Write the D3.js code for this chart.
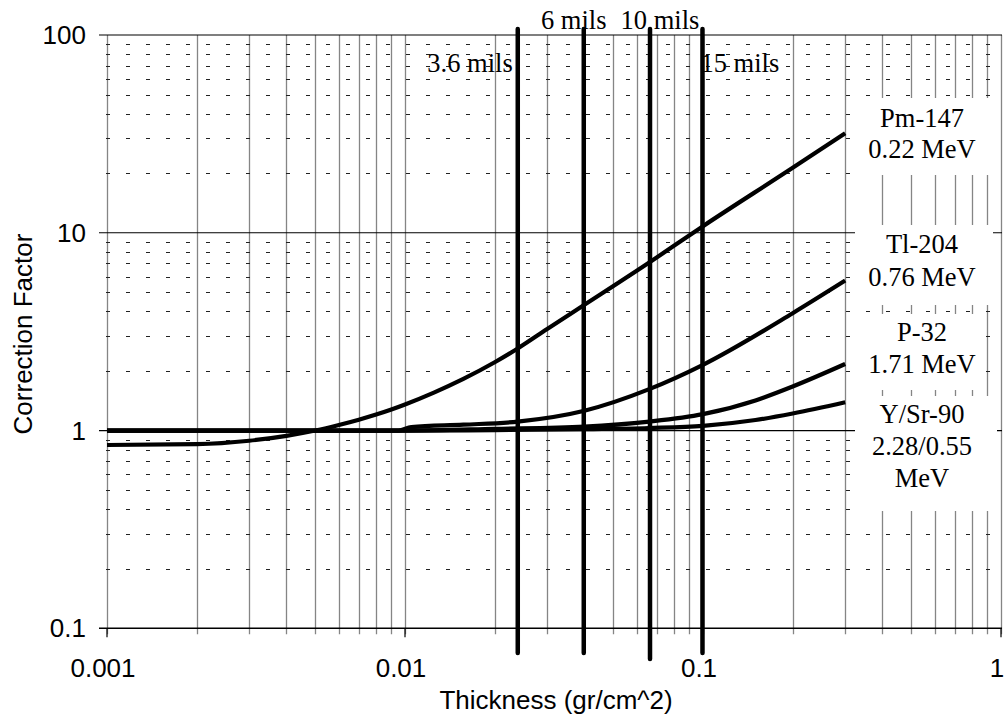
<!DOCTYPE html>
<html>
<head>
<meta charset="utf-8">
<script src="https://cdn.jsdelivr.net/npm/d3@7"></script>
<style>
  html, body { margin: 0; padding: 0; background: #fff; }
  svg { display: block; }
  .sans { font-family: "Liberation Sans", Arial, sans-serif; }
  .serif { font-family: "Liberation Serif", "Times New Roman", serif; }
</style>
</head>
<body>
<div id="chart"></div>
<script>
// Thickness values (gr/cm^2) and correction factors
const pmX  = [0.001, 0.002, 0.003, 0.004, 0.005, 0.006, 0.007, 0.008, 0.009, 0.01, 0.0125, 0.0157, 0.02, 0.0239, 0.03, 0.04, 0.066, 0.1, 0.2, 0.3];
const pmY  = [0.845, 0.853, 0.888, 0.94, 1.0, 1.067, 1.135, 1.205, 1.278, 1.355, 1.556, 1.825, 2.215, 2.6, 3.26, 4.32, 7.07, 10.8, 21.3, 31.9];

const tlX  = [0.001, 0.005, 0.0095, 0.0105, 0.0157, 0.0239, 0.04, 0.066, 0.1, 0.2, 0.3];
const tlY  = [1.0, 1.0, 1.0, 1.04, 1.07, 1.11, 1.26, 1.62, 2.15, 3.92, 5.73];

const p32X = [0.001, 0.005, 0.01, 0.02, 0.04, 0.066, 0.1, 0.15, 0.2, 0.3];
const p32Y = [1.0, 1.0, 1.0, 1.02, 1.047, 1.11, 1.21, 1.42, 1.67, 2.17];

const srX  = [0.001, 0.005, 0.01, 0.02, 0.04, 0.066, 0.1, 0.15, 0.2, 0.3];
const srY  = [1.0, 1.0, 1.0, 1.005, 1.015, 1.03, 1.056, 1.13, 1.22, 1.39];

// Absorber thicknesses marked with vertical lines
const milsX      = [0.0239, 0.0398, 0.0664, 0.0996];
const milsLabels = ["3.6 mils", "6 mils", "10 mils", "15 mils"];

const legendLines = [
  ["Pm-147", "0.22 MeV"],
  ["Tl-204", "0.76 MeV"],
  ["P-32", "1.71 MeV"],
  ["Y/Sr-90", "2.28/0.55", "MeV"]
];

const xTickLabels = ["0.001", "0.01", "0.1", "1"];
const yTickLabels = ["0.1", "1", "10", "100"];

const width = 1005, height = 721;
const svg = d3.select("#chart").append("svg")
  .attr("width", width)
  .attr("height", height);

const x = d3.scaleLog().domain([0.001, 1]).range([107, 1001]);
const y = d3.scaleLog().domain([0.1, 100]).range([628.3, 35]);

// Vertical grid (gray, all 1..9 multiples)
svg.append("g")
  .selectAll("line")
  .data(x.ticks())
  .join("line")
  .attr("x1", d => Math.round(x(d)) + 0.5)
  .attr("x2", d => Math.round(x(d)) + 0.5)
  .attr("y1", y(100))
  .attr("y2", y(0.1) + 6)
  .attr("stroke", "#858585")
  .attr("stroke-width", 1.3);

// Horizontal minor grid (dashed)
const yMinor = y.ticks().filter(d => !yTickLabels.includes(String(d)));
svg.append("g")
  .selectAll("line")
  .data(yMinor)
  .join("line")
  .attr("x1", 106)
  .attr("x2", 1001)
  .attr("y1", d => Math.round(y(d)) + 0.5)
  .attr("y2", d => Math.round(y(d)) + 0.5)
  .attr("stroke", "#222")
  .attr("stroke-width", 1)
  .attr("stroke-dasharray", "4,16");

// Horizontal major grid + left ticks
const yMajor = yTickLabels.map(Number);
svg.append("g")
  .selectAll("line")
  .data(yMajor)
  .join("line")
  .attr("x1", 99)
  .attr("x2", 1002)
  .attr("y1", d => y(d))
  .attr("y2", d => y(d))
  .attr("stroke", "#000")
  .attr("stroke-width", d => (d === 0.1 ? 1.6 : 1.2));

// Bottom major ticks
svg.append("g")
  .selectAll("line")
  .data(xTickLabels.map(Number))
  .join("line")
  .attr("x1", d => x(d))
  .attr("x2", d => x(d))
  .attr("y1", y(0.1))
  .attr("y2", y(0.1) + 9)
  .attr("stroke", "#000")
  .attr("stroke-width", 1.2);

// Curves
const series = [
  { xs: pmX, ys: pmY },
  { xs: tlX, ys: tlY },
  { xs: p32X, ys: p32Y },
  { xs: srX, ys: srY }
];

const line = d3.line()
  .x(d => x(d[0]))
  .y(d => y(d[1]))
  .curve(d3.curveMonotoneX);

svg.append("g")
  .selectAll("path")
  .data(series)
  .join("path")
  .attr("d", s => line(s.xs.map((v, i) => [v, s.ys[i]])))
  .attr("fill", "none")
  .attr("stroke", "#000")
  .attr("stroke-width", 4.2)
  .attr("stroke-linejoin", "round");

// Mils lines
svg.append("g")
  .selectAll("line")
  .data(milsX)
  .join("line")
  .attr("x1", d => x(d))
  .attr("x2", d => x(d))
  .attr("y1", 29)
  .attr("y2", (d, i) => (i === 2 ? 659 : 653))
  .attr("stroke", "#000")
  .attr("stroke-width", 4.5)
  .attr("stroke-linecap", "round");

// Mils labels
const milsPos = [
  { anchor: "end", dx: -5, y: 72 },
  { anchor: "middle", dx: -10, y: 28.5 },
  { anchor: "middle", dx: 10, y: 28.5 },
  { anchor: "start", dx: -2, y: 72 }
];
svg.append("g")
  .attr("class", "serif")
  .selectAll("text")
  .data(milsLabels)
  .join("text")
  .attr("x", (d, i) => x(milsX[i]) + milsPos[i].dx)
  .attr("y", (d, i) => milsPos[i].y)
  .attr("text-anchor", (d, i) => milsPos[i].anchor)
  .attr("font-size", 26.5)
  .attr("fill", "#000")
  .text(d => d);

// Legend boxes
const boxes = [
  { x0: 856, x1: 991, y0: 98, y1: 175, base: [126.7, 158] },
  { x0: 855, x1: 993, y0: 225, y1: 305, base: [253.3, 286] },
  { x0: 856, x1: 985, y0: 314, y1: 390, base: [341, 373] },
  { x0: 855, x1: 997, y0: 396, y1: 511, base: [422.7, 455, 486.7] }
];
const legend = svg.append("g").attr("class", "serif");
legendLines.forEach((lines, i) => {
  const b = boxes[i];
  legend.append("rect")
    .attr("x", b.x0)
    .attr("y", b.y0)
    .attr("width", b.x1 - b.x0)
    .attr("height", b.y1 - b.y0)
    .attr("fill", "#fff");
  lines.forEach((t, j) => {
    legend.append("text")
      .attr("x", 922)
      .attr("y", b.base[j])
      .attr("text-anchor", "middle")
      .attr("font-size", 26.5)
      .attr("fill", "#000")
      .text(t);
  });
});

// Tick labels
svg.append("g")
  .attr("class", "sans")
  .selectAll("text")
  .data(yTickLabels)
  .join("text")
  .attr("x", 86)
  .attr("y", d => y(+d) + 9)
  .attr("text-anchor", "end")
  .attr("font-size", 26)
  .text(d => d);

svg.append("g")
  .attr("class", "sans")
  .selectAll("text")
  .data(xTickLabels)
  .join("text")
  .attr("x", d => x(+d) - 4)
  .attr("y", 676.5)
  .attr("text-anchor", "middle")
  .attr("font-size", 26)
  .text(d => d);

// Axis titles
svg.append("text")
  .attr("class", "sans")
  .attr("x", 556)
  .attr("y", 708.5)
  .attr("text-anchor", "middle")
  .attr("font-size", 26)
  .text("Thickness (gr/cm^2)");

svg.append("text")
  .attr("class", "sans")
  .attr("transform", "translate(32,334) rotate(-90)")
  .attr("text-anchor", "middle")
  .attr("font-size", 26)
  .text("Correction Factor");
</script>
</body>
</html>
